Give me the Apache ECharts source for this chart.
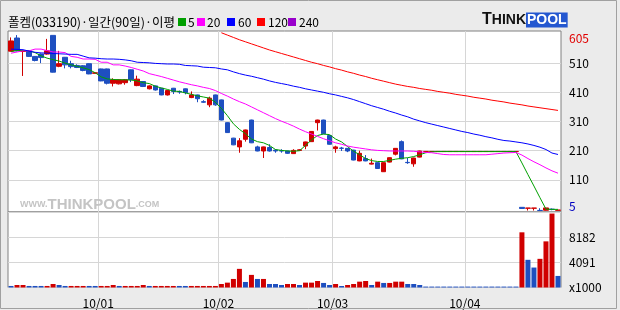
<!DOCTYPE html>
<html><head><meta charset="utf-8">
<script src="https://cdn.jsdelivr.net/npm/echarts@6/dist/echarts.min.js"></script>
<style>html,body{margin:0;padding:0;background:#ebebeb}#c{width:620px;height:310px}</style>
</head><body><div id="c"></div>
<script>
// ---- data (price in won, volume in thousands) ----
const opens  = [551,596,550,552,533,541,541,605,499,530,508,502,501,508,475,490,490,441,439,443,487,433,447,422,432,424,401,424,413,422,392,401,378,367,401,384,306,253,223,249,315,223,209,221,212,210,209,200,211,226,241,306,315,262,217,219,218,212,175,183,164,169,138,171,198,241,170,165,188,207,207,207,207,207,207,207,207,207,207,207,207,207,207,207,207,16,13,13,5.5,6,9.5,6];
const closes = [586,552,552,533,519,529,552,479,508,504,498,495,485,473,477,449,441,453,453,453,453,455,430,432,418,401,416,413,411,409,401,388,376,390,367,315,272,230,244,281,237,209,223,209,209,209,201,211,213,240,276,315,268,232,223,218,209,178,201,175,167,149,169,186,218,182,169,185,209,207.5,207.5,207.5,207.5,207.5,207.5,207.5,207.5,207.5,207.5,207.5,207.5,207.5,207.5,207.5,207.5,12,13.5,13.5,5,14,9,6.5];
const lows   = [549,550,466,531,516,510,539,478,496,492,492,493,482,472,474,448,437,430,437,436,445,431,428,420,416,400,399,404,405,403,390,376,374,359,364,314,271,229,203,241,236,208,185,207,203,203,199,199,210,215,240,279,267,231,203,209,205,177,174,174,163,148,137,170,194,181,165,155,187,207,207,207,207,207,207,207,207,207,207,207,207,207,207,207,207,11,5,5,5,5,6,6];
const highs  = [598,606,555,554,534,543,593,605,552,531,518,506,503,509,478,491,491,458,454,455,488,467,448,434,433,425,417,425,416,423,413,402,383,395,402,385,307,254,253,282,316,227,224,232,215,215,210,215,215,241,277,316,316,263,227,223,219,213,210,195,183,170,170,187,219,245,185,186,210,208,208,208,208,208,208,208,208,208,208,208,208,208,208,208,208,16,13.5,13.5,13,14,12,7];
const volumes = [250,410,410,250,250,250,250,570,410,250,250,250,250,250,250,250,250,410,250,250,250,250,410,250,250,250,250,250,250,250,250,250,250,250,250,570,790,1390,3030,900,2050,1390,1390,570,570,410,570,570,410,790,790,1060,740,410,570,245,410,570,950,1060,410,950,740,740,950,950,570,570,410,150,150,150,150,150,150,150,150,150,150,150,150,150,150,150,150,8970,4500,3245,4660,7500,12020,1880];
const volUp   = [0,1,1,0,0,0,1,1,0,0,1,1,1,0,0,1,1,1,0,1,1,1,1,0,1,1,1,1,0,0,1,1,1,1,1,1,1,1,1,0,1,0,1,0,0,0,1,1,0,1,1,1,0,0,1,0,1,1,1,1,0,1,0,1,1,1,0,0,0,0,0,0,0,0,0,0,0,0,0,0,0,0,0,0,0,1,0,0,1,1,1,0];
const ma5   = [550,553,553,552,546,535,527,522,517,510,504,499,494,488,477,463,456,454,453,453,452,449,443,440,431,425,420,414,413,408,403,398,394,390,376,355,330,302,283,268,250,241,237,228,214,211,209,208,210,228,247,262,267,265,250,240,224,208,196,183,176,173,173,177,181,184,186,190,196,203,206,207,207,207,207,207,207,207,207,207,207,207,207,207,207,168,128,89,49,10,9,9];
const ma20  = [544,548,552,552,558,558,553,548,548,546,533,530,524,524,523,513,513,504,504,500,495,489,483,474,469,464,458,452,446,441,436,432,427,423,416,406,397,387,378,370,360,350,340,330,320,311,303,294,284,275,267,259,251,244,237,232,226,222,219,216,213,211,210,209,209,209,209,208,206,204,203,200,197,196,196,196,196,196,196,196,198,200,202,203,204,195,183,172,162,151,141,133];
const ma60  = [558,557,556,551,547,545,544,543,542,541,540,540,534,528,527,525,524,524,523,521,518,513,512,511,509,508,507,507,506,502,501,500,496,495,494,490,487,480,474,469,465,460,455,449,444,440,436,431,427,422,418,414,410,405,401,396,391,385,378,371,364,358,352,345,339,332,326,318,312,306,301,296,291,286,281,276,272,267,263,258,254,249,245,243,240,237,233,228,222,214,202,197];
const ma120 = [null,null,null,null,null,null,null,null,null,null,null,null,null,null,null,null,null,null,null,null,null,null,null,null,null,null,null,null,null,null,null,null,null,null,null,614,606,598,590,583,576,569,562,555,549,543,537,531,525,519,513,508,502,497,491,486,480,475,469,464,458,453,448,443,438,434,430,427,423,420,417,413,410,407,403,400,397,393,390,387,383,380,377,373,370,367,363,360,357,354,351,348];
const ma240 = [];
const monthStart  = [15,35,54,76];
const monthLabels = ['10/01','10/02','10/03','10/04'];
const priceLabels = [5,110,210,310,410,510,605];
const priceGrid   = [110,210,310,410,510];
const volStep = 4091;

// ---- build ----
const cats = opens.map((_, i) => 'd' + i);
const candle = opens.map((o, i) => [o, closes[i], lows[i], highs[i]]);
const RED = '#d00000', BLUE = '#1e4fc0';
const volData = volumes.map((v, i) => ({value: v, itemStyle: {color: volUp[i] ? RED : BLUE}}));
const FONT = '"Noto Sans CJK KR","Noto Sans",sans-serif';
const ARIAL = '"Liberation Sans",Arial,sans-serif';
const L = 8, W = 553;
const chart = echarts.init(document.getElementById('c'), null, {renderer: 'canvas'});
const gridLine = {show: true, lineStyle: {color: '#d6d6d6', width: 1}};
chart.setOption({
  animation: false,
  backgroundColor: '#ebebeb',
  textStyle: {fontFamily: FONT},
  title: [
    {text: '폴켐(033190)·일간(90일)·이평', left: 8, top: 15, padding: 0,
     textStyle: {fontSize: 12.5, fontWeight: 'normal', color: '#000', lineHeight: 14, fontFamily: FONT}},
    {text: '{g| }{a|5}{m| }{b|20}{u| }{c|60}{r| }{d|120}{p| }{e|240}', left: 178, top: 15, padding: 0,
     textStyle: {fontSize: 12, fontWeight: 'normal', color: '#000', lineHeight: 14, fontFamily: FONT,
       rich: {
         g: {backgroundColor: '#00a000', width: 8, height: 8},
         m: {backgroundColor: '#ff00ff', width: 8, height: 8},
         u: {backgroundColor: '#0000ff', width: 8, height: 8},
         r: {backgroundColor: '#ff0000', width: 8, height: 8},
         p: {backgroundColor: '#9900cc', width: 8, height: 8},
         a: {width: 9, padding: [0, 0, 0, 2]},
         b: {width: 20, padding: [0, 0, 0, 2]},
         c: {width: 19, padding: [0, 0, 0, 3]},
         d: {width: 20, padding: [0, 0, 0, 3]},
         e: {width: 25, padding: [0, 0, 0, 3]}
       }}},
    {text: '{t|T}{h|HINK}{p|POOL}', left: 482, top: 12, padding: 0,
     textStyle: {fontFamily: ARIAL, fontWeight: 'bold',
       rich: {
         t: {fontSize: 16, fontWeight: 'bold', color: '#111', fontFamily: ARIAL},
         h: {fontSize: 14, fontWeight: 'bold', color: '#111', fontFamily: ARIAL},
         p: {fontSize: 14, fontWeight: 'bold', color: '#fff', backgroundColor: '#2457d0', padding: [1, 1, 0, 1], fontFamily: ARIAL}
       }}},
    {text: '{s|WWW.}{b|THINKPOOL}{s|.COM}', left: 20, top: 197, padding: 0,
     textStyle: {fontFamily: ARIAL, color: '#c4c4c4',
       rich: {
         s: {fontSize: 9, fontWeight: 'bold', color: '#c4c4c4', fontFamily: ARIAL},
         b: {fontSize: 15, fontWeight: 'bold', color: '#c4c4c4', fontFamily: ARIAL}
       }}}
  ],
  graphic: [{type: 'rect', silent: true, shape: {x: 0.5, y: 0.5, width: 616, height: 308},
             style: {fill: 'none', stroke: '#a0a0a0', lineWidth: 1}, z: 100}],
  grid: [
    {left: L, width: W, top: 31, height: 181, show: true, backgroundColor: '#fff', borderColor: '#808080', borderWidth: 1},
    {left: L, width: W, top: 212, height: 75.5, show: true, backgroundColor: '#fff', borderColor: '#808080', borderWidth: 1}
  ],
  xAxis: [
    {type: 'category', gridIndex: 0, data: cats, boundaryGap: true, axisLine: {show: false}, axisTick: {show: false}, axisLabel: {show: false}, splitLine: {show: false}},
    {type: 'category', gridIndex: 1, data: cats, boundaryGap: true, axisLine: {show: false}, axisTick: {show: false}, axisLabel: {show: false}, splitLine: {show: false}},
    {type: 'value', gridIndex: 0, min: -0.5, max: cats.length - 0.5, axisLine: {show: false},
     axisTick: {show: false, customValues: monthStart.map(i => i - 0.5)},
     axisLabel: {show: false}, splitLine: gridLine},
    {type: 'value', gridIndex: 1, min: -0.5, max: cats.length - 0.5, position: 'bottom', axisLine: {show: false},
     axisTick: {show: false, customValues: monthStart.map(i => i - 0.5)},
     axisLabel: {customValues: monthStart.map(i => i - 0.5), margin: 10, fontSize: 12, color: '#000',
       formatter: v => monthLabels[monthStart.indexOf(Math.round(v + 0.5))] || ''},
     splitLine: gridLine}
  ],
  yAxis: [
    {type: 'value', gridIndex: 0, position: 'right', min: 0, max: 620, axisLine: {show: false},
     axisTick: {show: false, customValues: priceGrid},
     axisLabel: {customValues: priceLabels, margin: 8, fontSize: 12, color: '#000',
       formatter: v => v === 605 ? '{hi|605}' : (v === 5 ? '{lo|5}' : String(v)),
       rich: {hi: {color: '#e00000', padding: [7, 0, 0, 0]}, lo: {color: '#0000c0', padding: [0, 0, 8, 0]}}},
     splitLine: gridLine},
    {type: 'value', gridIndex: 1, position: 'right', min: 0, max: volStep * 3, interval: volStep, axisLine: {show: false},
     axisTick: {show: false},
     axisLabel: {margin: 8, fontSize: 12, color: '#000',
       formatter: v => v === 0 ? 'x1000' : (v >= volStep * 3 ? '' : String(v))},
     splitLine: gridLine}
  ],
  series: [
    {type: 'candlestick', name: 'price', xAxisIndex: 0, yAxisIndex: 0, data: candle, barWidth: 5,
     itemStyle: {color: RED, color0: BLUE, borderColor: RED, borderColor0: BLUE, borderColorDoji: RED, borderWidth: 1}},
    {type: 'line', name: '5', xAxisIndex: 0, yAxisIndex: 0, data: ma5, showSymbol: false, lineStyle: {width: 1, color: '#00a000'}, itemStyle: {color: '#00a000'}},
    {type: 'line', name: '20', xAxisIndex: 0, yAxisIndex: 0, data: ma20, showSymbol: false, lineStyle: {width: 1, color: '#ff00ff'}, itemStyle: {color: '#ff00ff'}},
    {type: 'line', name: '60', xAxisIndex: 0, yAxisIndex: 0, data: ma60, showSymbol: false, lineStyle: {width: 1, color: '#0000ff'}, itemStyle: {color: '#0000ff'}},
    {type: 'line', name: '120', xAxisIndex: 0, yAxisIndex: 0, data: ma120, showSymbol: false, connectNulls: false, lineStyle: {width: 1, color: '#ff0000'}, itemStyle: {color: '#ff0000'}},
    {type: 'line', name: '240', xAxisIndex: 0, yAxisIndex: 0, data: ma240, showSymbol: false, lineStyle: {width: 1, color: '#9900cc'}},
    {type: 'bar', name: 'volume', xAxisIndex: 1, yAxisIndex: 1, data: volData, barWidth: 5}
  ]
});
</script></body></html>
